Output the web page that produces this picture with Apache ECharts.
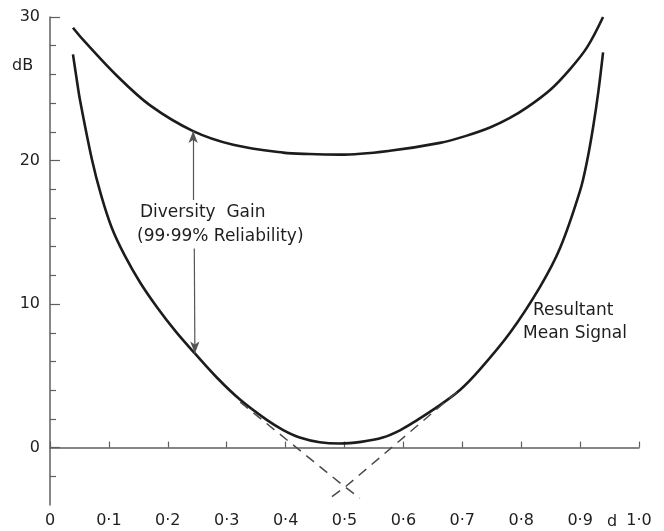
<!DOCTYPE html>
<html><head><meta charset="utf-8">
<script src="https://cdn.jsdelivr.net/npm/echarts@6/dist/echarts.min.js"></script>
<style>html,body{margin:0;padding:0;background:#fff}#c{width:664px;height:531px}</style>
</head><body><div id="c"></div>
<script>
// Upper curve (diversity, 99.99% reliability)
var upperX = [0.039,0.056,0.114,0.170,0.243,0.311,0.396,0.440,0.492,0.577,0.662,0.705,0.747,0.780,0.810,0.850,0.883,0.912,0.939];
var upperY = [29.25,28.42,25.89,23.84,22.05,21.10,20.55,20.45,20.41,20.68,21.23,21.70,22.30,22.95,23.70,24.95,26.37,27.90,30.0];
// Lower curve (resultant mean signal)
var lowerX = [0.039,0.045,0.051,0.071,0.087,0.105,0.127,0.153,0.182,0.214,0.246,0.284,0.323,0.368,0.396,0.424,0.458,0.492,0.528,0.565,0.595,0.620,0.662,0.696,0.730,0.781,0.832,0.866,0.900,0.912,0.922,0.931,0.939];
var lowerY = [27.40,25.75,24.20,20.11,17.55,15.30,13.37,11.50,9.76,8.06,6.56,4.85,3.33,1.93,1.22,0.70,0.37,0.28,0.40,0.70,1.22,1.83,2.96,4.01,5.45,8.00,11.20,13.90,17.90,20.00,22.30,24.80,27.53];
// Dashed single-path asymptotes
var dashLX = [0.323,0.501,0.526];
var dashLY = [3.17,-2.75,-3.52];
var dashRX = [0.691,0.501,0.475];
var dashRY = [3.87,-2.75,-3.52];
// Diversity gain arrow: x position and y stops (top, text gap top, text gap bottom, bottom)
var arrowX = 0.243;
var arrowY = [22.05, 17.25, 13.87, 6.56];
// Axis ticks
var yLabels = [0,10,20,30];
var yMinor = [-2,2,4,6,8,12,14,16,18,22,24,26,28];

function pairs(xs, ys){ return xs.map(function(x,i){return [x, ys[i]];}); }

var FONT = 'DejaVu Sans';
var INK = '#1c1c1c';
var AX = '#5f5f5f';

var chart = echarts.init(document.getElementById('c'), null, {renderer:'canvas'});
var yBase = { type:'value', min:-4, max:30, interval:2, splitLine:{show:false} };
chart.setOption({
  animation:false,
  backgroundColor:'#fff',
  grid:{left:50, right:25, top:17, bottom:26},
  xAxis:{
    type:'value', min:0, max:1, interval:0.1,
    axisLine:{lineStyle:{color:AX, width:1.5}},
    axisTick:{inside:true, length:6, lineStyle:{color:AX, width:1.2}},
    splitLine:{show:false},
    axisLabel:{margin:8, color:'#1e1e1e', fontFamily:FONT, fontSize:16,
      formatter:function(v){ if(Math.abs(v)<1e-9) return '0'; return v.toFixed(1).replace('.', '·'); }}
  },
  yAxis:[
    Object.assign({}, yBase, {
      axisLine:{show:true, lineStyle:{color:AX, width:1.5}},
      axisTick:{show:true, inside:true, length:6, customValues:yMinor, lineStyle:{color:AX, width:1.2}},
      axisLabel:{show:true, customValues:yLabels, margin:10, color:'#1e1e1e', fontFamily:FONT, fontSize:16}
    }),
    Object.assign({}, yBase, {
      position:'left',
      axisLine:{show:false},
      axisTick:{show:true, inside:true, length:10, customValues:yLabels, lineStyle:{color:AX, width:1.2}},
      axisLabel:{show:false}
    })
  ],
  series:[
    {type:'line', data:pairs(upperX, upperY), smooth:0.35, symbol:'none',
     lineStyle:{color:INK, width:2.6}},
    {type:'line', data:pairs(lowerX, lowerY), smooth:0.35, symbol:'none',
     lineStyle:{color:INK, width:2.6}},
    {type:'line', data:pairs(dashLX, dashLY), symbol:'none',
     lineStyle:{color:'#4a4a4a', width:1.5, type:[10,7]}},
    {type:'line', data:pairs(dashRX, dashRY), symbol:'none',
     lineStyle:{color:'#4a4a4a', width:1.5, type:[10,7]}},
    {type:'line', data:[], symbol:'none',
     markLine:{silent:true, symbolSize:[7,12], animation:false,
       lineStyle:{color:'#555', width:1.2, type:'solid'}, label:{show:false},
       data:[
         [{coord:[arrowX, arrowY[0]], symbol:'arrow'}, {coord:[arrowX, arrowY[1]], symbol:'none'}],
         [{coord:[arrowX+0.002, arrowY[2]], symbol:'none'}, {coord:[arrowX+0.003, arrowY[3]], symbol:'arrow'}]
       ]}}
  ],
  graphic:[
    {type:'text', left:12, top:58, style:{text:'dB', font:'16px "'+FONT+'"', fill:'#1e1e1e'}},
    {type:'text', left:607, top:514, style:{text:'d', font:'16px "'+FONT+'"', fill:'#1e1e1e'}},
    {type:'text', left:140, top:204, style:{text:'Diversity  Gain', font:'17px "'+FONT+'"', fill:'#1e1e1e'}},
    {type:'text', left:137, top:228, style:{text:'(99·99% Reliability)', font:'17px "'+FONT+'"', fill:'#1e1e1e'}},
    {type:'text', left:533, top:302, style:{text:'Resultant', font:'17px "'+FONT+'"', fill:'#1e1e1e'}},
    {type:'text', left:523, top:325, style:{text:'Mean Signal', font:'17px "'+FONT+'"', fill:'#1e1e1e'}}
  ]
});
</script>
</body></html>
